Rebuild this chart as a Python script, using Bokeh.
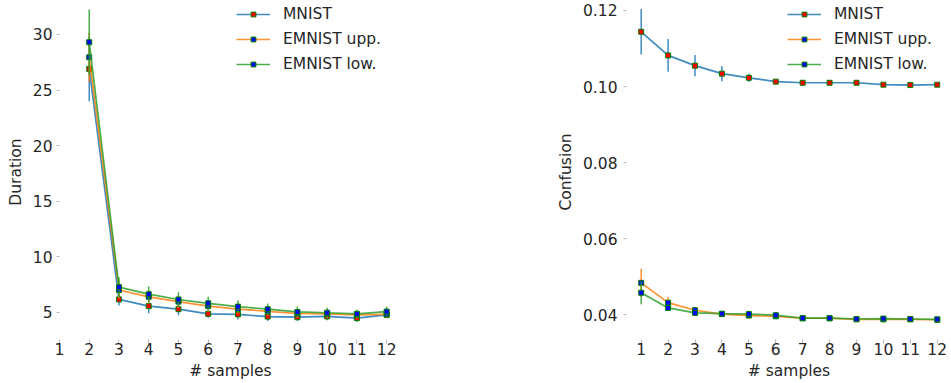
from bokeh.plotting import figure
from bokeh.layouts import row
from bokeh.models import FixedTicker, NumeralTickFormatter, Legend, LegendItem, Range1d
from bokeh.embed import file_html
from bokeh.resources import INLINE

# ---------------- data ----------------
series_names = ["MNIST", "EMNIST upp.", "EMNIST low."]
x_ticks = [1, 2, 3, 4, 5, 6, 7, 8, 9, 10, 11, 12]

dur_x = [2, 3, 4, 5, 6, 7, 8, 9, 10, 11, 12]
dur_mnist = [26.9, 6.15, 5.55, 5.27, 4.85, 4.8, 4.6, 4.55, 4.62, 4.47, 4.75]
dur_mnist_err = [2.9, 0.55, 0.65, 0.55, 0.35, 0.45, 0.4, 0.35, 0.35, 0.35, 0.3]
dur_upp = [27.95, 7.0, 6.38, 5.95, 5.55, 5.28, 5.08, 4.88, 4.85, 4.75, 4.8]
dur_upp_err = [2.2, 0.8, 0.6, 0.55, 0.5, 0.45, 0.4, 0.4, 0.4, 0.35, 0.35]
dur_low = [29.3, 7.25, 6.62, 6.14, 5.8, 5.5, 5.27, 5.02, 4.95, 4.85, 5.05]
dur_low_err = [2.95, 0.9, 0.7, 0.65, 0.6, 0.55, 0.5, 0.5, 0.45, 0.4, 0.45]
dur_yticks = [5, 10, 15, 20, 25, 30]

conf_x = [1, 2, 3, 4, 5, 6, 7, 8, 9, 10, 11, 12]
conf_mnist = [0.1144, 0.1082, 0.1055, 0.1034, 0.1023, 0.1013, 0.1010, 0.1010, 0.1010, 0.1005, 0.1004, 0.1005]
conf_mnist_err = [0.0060, 0.0043, 0.0028, 0.0020, 0.0011, 0.0005, 0.0003, 0.0003, 0.0003, 0.0002, 0.0002, 0.0002]
conf_upp = [0.0484, 0.0432, 0.0412, 0.0402, 0.0398, 0.0396, 0.0391, 0.0391, 0.0388, 0.0388, 0.0388, 0.0387]
conf_upp_err = [0.0037, 0.0015, 0.0008, 0.0005, 0.0005, 0.0003, 0.0002, 0.0002, 0.0002, 0.0003, 0.0001, 0.0001]
conf_low = [0.0458, 0.0418, 0.0405, 0.0403, 0.0402, 0.0399, 0.0391, 0.0391, 0.0389, 0.0390, 0.0389, 0.0388]
conf_low_err = [0.0030, 0.0008, 0.0005, 0.0005, 0.0005, 0.0004, 0.0002, 0.0002, 0.0002, 0.0004, 0.0002, 0.0002]
conf_yticks = [0.04, 0.06, 0.08, 0.10, 0.12]

# ---------------- style ----------------
FONT = "DejaVu Sans"
FS = "15.5px"
TXT = "#262626"
TICKC = "#b8b8b8"
LINE_COLORS = ["#1f77b4", "#ff7f0e", "#2ca02c"]
MARK_FILLS = ["red", "blue", "blue"]
MARK_EDGE = "green"
FIG_H = 383


def make_fig(width, xr, yr, min_left, min_right, ylabel, yticks, yfmt=None,
             ylab_stand=4, yax_stand=5):
    p = figure(width=width, height=FIG_H, x_range=Range1d(*xr), y_range=Range1d(*yr),
               output_backend="svg", toolbar_location=None,
               min_border_left=min_left, min_border_right=min_right,
               min_border_top=4, min_border_bottom=44)
    p.grid.visible = False
    p.outline_line_color = None
    p.background_fill_color = "white"
    p.border_fill_color = "white"
    for ax in (p.xaxis[0], p.yaxis[0]):
        ax.axis_line_color = None
        ax.minor_tick_line_color = None
        ax.major_tick_line_color = TICKC
        ax.major_tick_line_width = 1
        ax.major_tick_in = 0
        ax.major_label_text_font = FONT
        ax.major_label_text_font_size = FS
        ax.major_label_text_color = TXT
        ax.axis_label_text_font = FONT
        ax.axis_label_text_font_size = FS
        ax.axis_label_text_color = TXT
        ax.axis_label_text_font_style = "normal"
    p.xaxis.ticker = FixedTicker(ticks=x_ticks)
    p.xaxis.axis_label = "# samples"
    p.xaxis.major_tick_out = 4
    p.xaxis.major_label_standoff = -1
    p.xaxis.axis_label_standoff = 4
    p.yaxis.ticker = FixedTicker(ticks=yticks)
    p.yaxis.axis_label = ylabel
    p.yaxis.major_tick_out = 3
    p.yaxis.major_label_standoff = ylab_stand
    p.yaxis.axis_label_standoff = yax_stand
    if yfmt:
        p.yaxis.formatter = NumeralTickFormatter(format=yfmt)
    return p


def draw(p, xs, ys_list, errs_list, legend_loc):
    items = []
    for name, ys, es, lc, mf in zip(series_names, ys_list, errs_list, LINE_COLORS, MARK_FILLS):
        ln = p.line(xs, ys, line_color=lc, line_width=1.7, line_alpha=0.85)
        p.segment(x0=xs, y0=[y - e for y, e in zip(ys, es)],
                  x1=xs, y1=[y + e for y, e in zip(ys, es)],
                  line_color=lc, line_width=1.5, line_alpha=0.85)
        sc = p.scatter(xs, ys, marker="square", size=5, fill_color=mf,
                       line_color=MARK_EDGE, line_width=1)
        items.append(LegendItem(label=name, renderers=[ln, sc]))
    leg = Legend(items=items, location=legend_loc, border_line_color=None,
                 background_fill_alpha=0, padding=0, margin=0, spacing=5,
                 glyph_width=34, glyph_height=12, label_height=20,
                 label_standoff=13, label_text_font=FONT,
                 label_text_font_size=FS, label_text_color=TXT)
    p.add_layout(leg, "center")


# left: Duration
p1 = make_fig(550, (1, 12.5), (2.54, 32.70), 59, 149, "Duration", dur_yticks,
              ylab_stand=4, yax_stand=5)
draw(p1, dur_x, [dur_mnist, dur_upp, dur_low], [dur_mnist_err, dur_upp_err, dur_low_err],
     (177, 265))

# right: Confusion
p2 = make_fig(401, (0.454, 12.53), (0.033506, 0.121577), 76, 0, "Confusion", conf_yticks,
              yfmt="0.00", ylab_stand=6, yax_stand=5)
draw(p2, conf_x, [conf_mnist, conf_upp, conf_low], [conf_mnist_err, conf_upp_err, conf_low_err],
     (161, 265))

layout = row(p1, p2)
open("out.html", "w").write(file_html(layout, INLINE))
